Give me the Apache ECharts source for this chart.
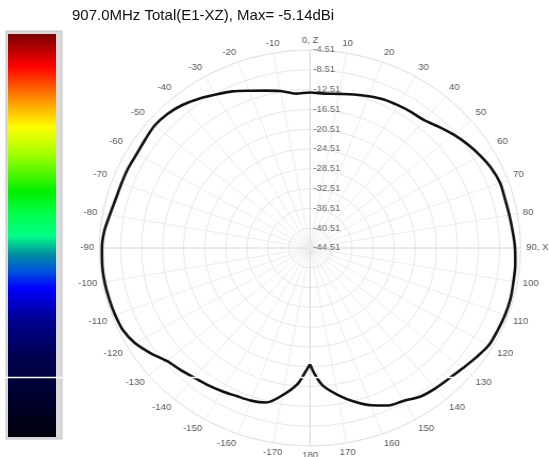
<!DOCTYPE html>
<html>
<head>
<meta charset="utf-8">
<script src="https://cdn.jsdelivr.net/npm/echarts@6/dist/echarts.min.js"></script>
<style>
html,body{margin:0;padding:0;background:#fff;width:549px;height:457px;overflow:hidden;}
#polar{position:absolute;left:0;top:0;width:516px;height:457px;transform:scaleX(1.064);transform-origin:0 0;}
#over{position:absolute;left:0;top:0;width:549px;height:457px;pointer-events:none;}
</style>
</head>
<body>
<div id="polar"></div>
<div id="over"></div>
<script>
// ---- data ----
const titleText = '907.0MHz Total(E1-XZ), Max= -5.14dBi';
const ringCenterDb = -44.51;       // value at the centre of the plot
const ringStepDb = 4;               // dB between rings
const ringCount = 10;               // rings out to -4.51
const angleTicks = [0,10,20,30,40,50,60,70,80,90,100,110,120,130,140,150,160,170,180,
                    190,200,210,220,230,240,250,260,270,280,290,300,310,320,330,340,350];
const angleDeg = [-180,-178,-175,-170,-165,-160,-155,-150,-145,-140,-135,-130,-125,-120,-115,-110,-105,-100,-95,-90,
  -85,-80,-75,-70,-65,-60,-55,-50,-45,-40,-35,-30,-25,-20,-15,-10,-5,0,5,10,15,20,25,30,35,40,45,50,55,60,
  65,70,75,80,85,90,95,100,105,110,115,120,125,130,135,140,145,150,155,160,165,170,175,178,180];
const gainDb = [-21.0,-19.5,-16.9,-14.3,-12.2,-11.7,-11.5,-11.1,-10.7,-10.3,-9.7,-9.0,-7.5,-6.1,-5.3,-5.1,-5.0,-4.9,-4.9,-5.0,
  -5.3,-5.9,-6.3,-6.4,-6.4,-6.5,-6.3,-6.0,-6.2,-6.8,-7.7,-8.7,-9.6,-10.7,-11.6,-12.3,-13.2,-13.1,-13.2,-12.9,-12.4,-11.9,-11.4,-11.2,-11.0,-10.8,-9.9,-8.9,-8.0,-7.2,
  -6.5,-6.1,-6.2,-6.1,-5.9,-5.6,-5.4,-5.3,-5.1,-5.1,-5.2,-5.3,-6.0,-6.7,-7.2,-7.5,-7.9,-8.9,-9.4,-10.7,-12.4,-14.4,-16.6,-19.0,-21.0];

// ---- polar chart (horizontally stretched like the reference) ----
const polarData = angleDeg.map((a, i) => [gainDb[i] - ringCenterDb, a < 0 ? a + 360 : a]);
const spokeColors = angleTicks.map(a => (a % 90 === 0) ? '#d4d4d4' : '#ececec');

const pc = echarts.init(document.getElementById('polar'), null, {renderer: 'canvas'});
pc.setOption({
  backgroundColor: 'transparent',
  animation: false,
  polar: {center: [291.4, 248], radius: 198},
  angleAxis: {
    type: 'value', min: 0, max: 360, interval: 10, startAngle: 90, clockwise: true,
    axisLine: {show: true, lineStyle: {color: '#e4e4e4', width: 1}},
    axisTick: {show: false},
    splitLine: {show: true, lineStyle: {color: spokeColors, width: 1}},
    axisLabel: {
      margin: 5, color: '#555', fontSize: 9, fontFamily: 'Liberation Sans, Arial, sans-serif',
      formatter: v => v === 0 ? '0, Z' : v === 90 ? '90, X' : v >= 360 ? '' : (v > 180 ? String(v - 360) : String(v))
    }
  },
  radiusAxis: {
    type: 'value', min: 0, max: ringStepDb * ringCount, interval: ringStepDb,
    axisLine: {show: false},
    axisTick: {show: false},
    splitLine: {show: true, lineStyle: {color: '#e6e6e6', width: 1}},
    axisLabel: {
      margin: -3, align: 'left', verticalAlign: 'middle', padding: [6, 0, 0, 0],
      color: '#666', fontSize: 9, fontFamily: 'Liberation Sans, Arial, sans-serif',
      formatter: v => (v + ringCenterDb).toFixed(2)
    }
  },
  series: [{
    type: 'line', coordinateSystem: 'polar', data: polarData,
    showSymbol: false, smooth: 0.3,
    lineStyle: {color: '#111', width: 2.6}
  }]
});

// ---- overlay: title, colour bar, white scan line ----
const oc = echarts.init(document.getElementById('over'), null, {renderer: 'canvas'});
oc.setOption({
  backgroundColor: 'transparent',
  animation: false,
  graphic: [
    {type: 'text', left: 72, top: 8, style: {text: titleText, fill: '#111', font: '15px Liberation Sans, Arial, sans-serif'}},
    {type: 'rect', shape: {x: 6, y: 31, width: 56, height: 408}, style: {fill: '#dadada', stroke: '#c4c4c4', lineWidth: 1}},
    {type: 'rect', shape: {x: 8, y: 34, width: 48, height: 403}, style: {
      fill: {type: 'linear', x: 0, y: 0, x2: 0, y2: 1, colorStops: [
        {offset: 0, color: '#7a0000'}, {offset: 0.08, color: '#ff0000'}, {offset: 0.16, color: '#ff8c00'},
        {offset: 0.23, color: '#ffff00'}, {offset: 0.30, color: '#a0ff00'}, {offset: 0.39, color: '#00f000'},
        {offset: 0.45, color: '#00ff50'}, {offset: 0.50, color: '#00ff88'}, {offset: 0.545, color: '#0090a0'},
        {offset: 0.59, color: '#0050e0'}, {offset: 0.63, color: '#0000ff'}, {offset: 0.71, color: '#000090'},
        {offset: 0.80, color: '#000050'}, {offset: 0.90, color: '#000030'}, {offset: 1, color: '#000008'}
      ]}
    }},
    {type: 'line', shape: {x1: 0, y1: 377.5, x2: 549, y2: 377.5}, style: {stroke: '#ffffff', lineWidth: 1.5}}
  ]
});
</script>
</body>
</html>
